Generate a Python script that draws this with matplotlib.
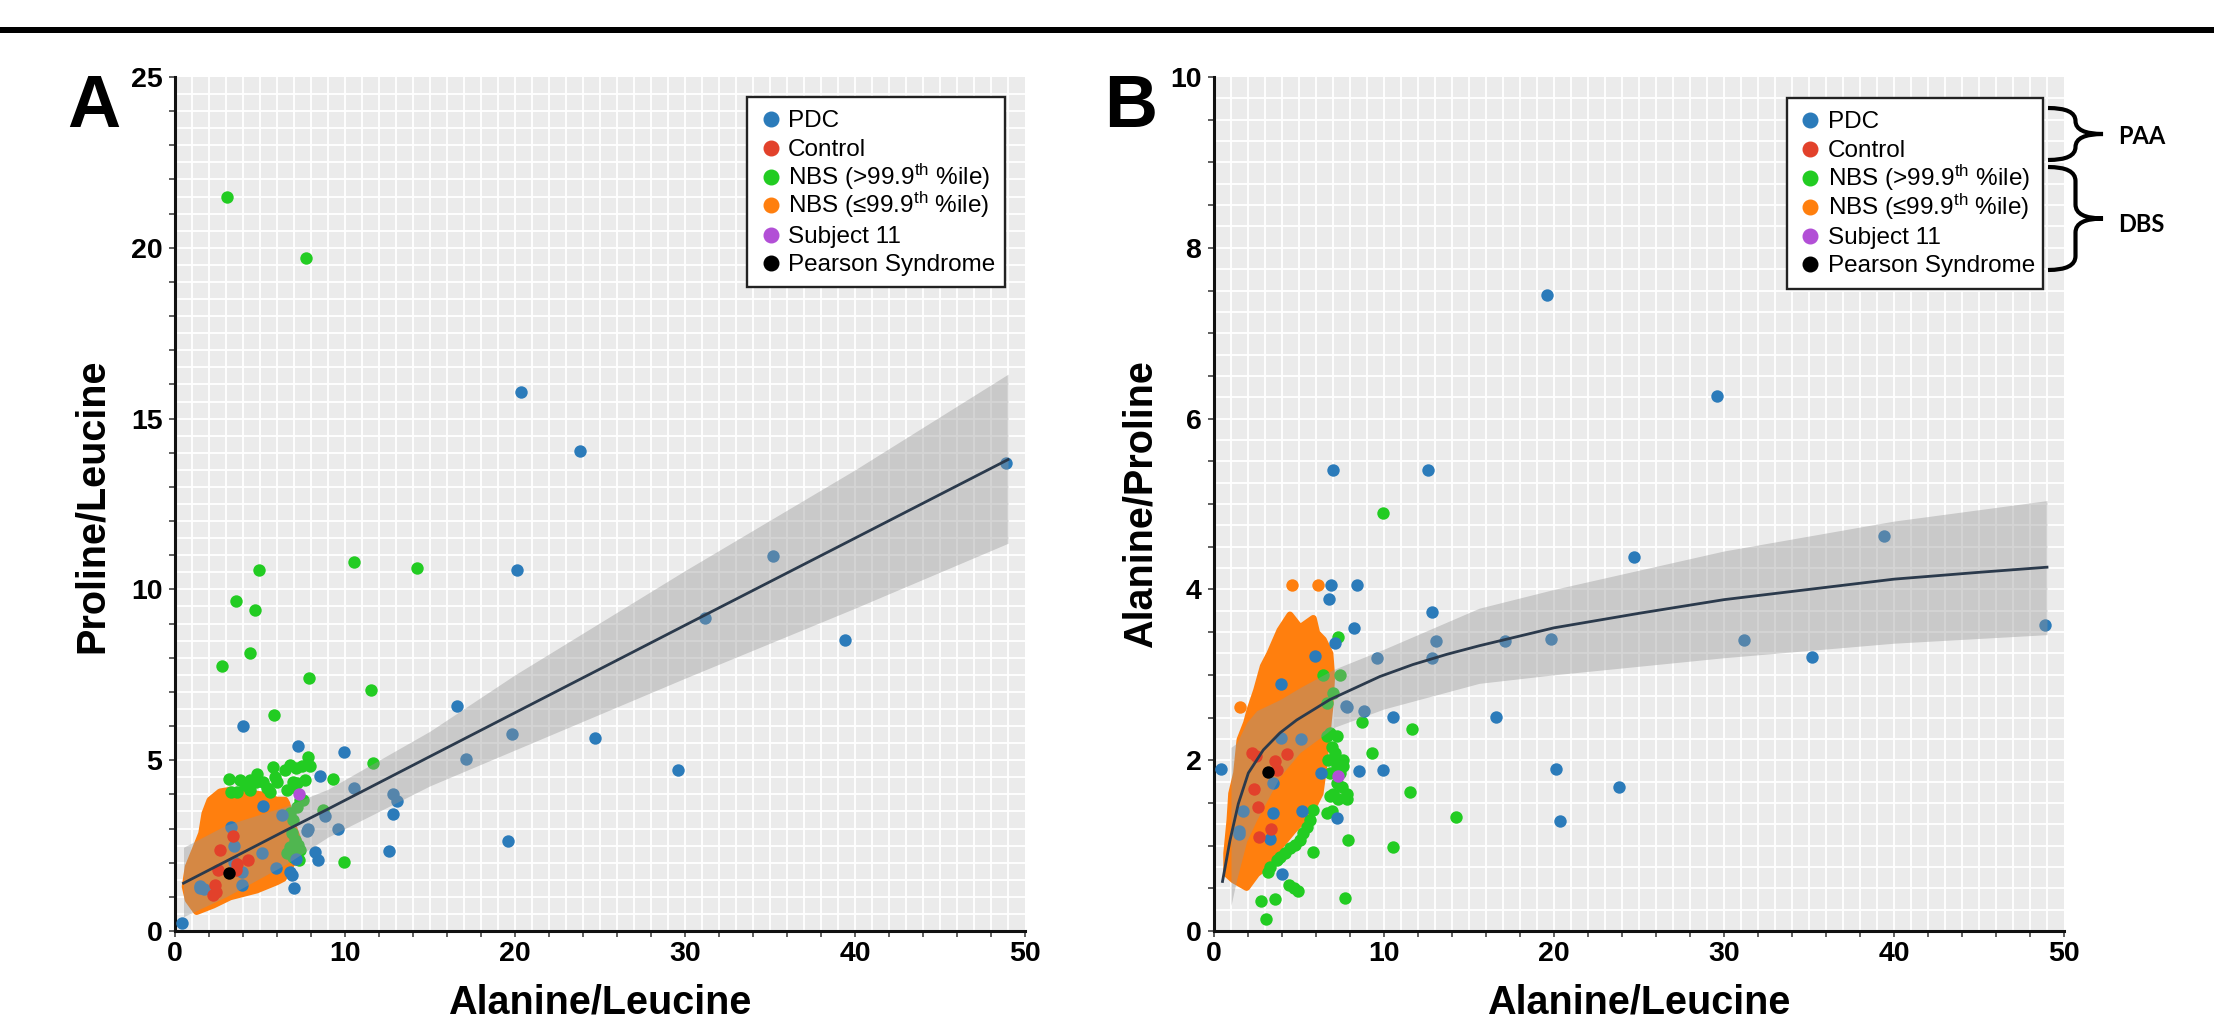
import numpy as np
import matplotlib
matplotlib.use("Agg")
import matplotlib.pyplot as plt
from matplotlib.patches import Polygon, Rectangle, PathPatch
from matplotlib.path import Path
from matplotlib.lines import Line2D

plt.rcParams['font.family'] = ['Liberation Sans', 'DejaVu Sans']
plt.rcParams['mathtext.fontset'] = 'custom'
plt.rcParams['mathtext.rm'] = 'Liberation Sans'
plt.rcParams['mathtext.it'] = 'Liberation Sans:italic'
plt.rcParams['mathtext.bf'] = 'Liberation Sans:bold'

# ---------------- data ----------------
series_labels = ["PDC", "Control", r"NBS (>99.9$^{\mathrm{th}}$ %ile)",
                 r"NBS (≤99.9$^{\mathrm{th}}$ %ile)", "Subject 11", "Pearson Syndrome"]
series_colors = ["#2b7bba", "#e2412b", "#22cc22", "#ff7f0e", "#b24fd6", "#000000"]

x_ticks = [0, 10, 20, 30, 40, 50]
a_y_ticks = [0, 5, 10, 15, 20, 25]
b_y_ticks = [0, 2, 4, 6, 8, 10]

# ---- Panel A : Proline/Leucine vs Alanine/Leucine ----
a_pdc_x = [0.43, 20.35, 23.8, 35.2, 20.1, 31.2, 39.4, 48.9, 16.57, 19.84, 24.7, 17.1, 29.6, 19.6,
           4.02, 7.22, 9.94, 8.53, 10.55, 12.84, 13.04, 12.84, 8.82, 9.57, 7.75, 12.6, 8.24, 8.43,
           7.12, 6.76, 6.86, 7.02, 5.94, 5.16, 6.31, 3.29, 3.45, 5.14, 3.96, 3.92, 1.47, 1.71,
           3.49, 1.49, 7.8]
a_pdc_y = [0.22, 15.77, 14.05, 10.97, 10.57, 9.15, 8.52, 13.69, 6.6, 5.78, 5.64, 5.03, 4.71, 2.63,
           5.99, 5.43, 5.24, 4.54, 4.2, 4.01, 3.81, 3.43, 3.37, 2.98, 2.94, 2.33, 2.32, 2.08,
           2.1, 1.74, 1.64, 1.27, 1.83, 3.66, 3.4, 3.04, 2.5, 2.27, 1.74, 1.35, 1.25, 1.22,
           2.02, 1.32, 2.98]

a_ctrl_x = [3.39, 2.65, 4.28, 3.63, 2.55, 2.35, 2.43, 2.22, 3.59]
a_ctrl_y = [2.78, 2.38, 2.07, 1.96, 1.8, 1.35, 1.15, 1.06, 1.8]

a_nbs_hi_x = [3.07, 7.7, 4.94, 10.55, 14.24, 3.57, 4.72, 4.43, 2.75, 7.9, 11.5, 5.84, 11.63, 9.27,
              9.96, 8.69, 7.2,
              3.19, 3.27, 3.82, 4.12, 4.41, 4.8, 4.76, 5.2, 5.39, 5.78, 5.88, 5.98, 6.47, 6.76,
              7.1, 7.45, 7.8, 7.94, 6.96, 7.16, 7.65, 6.96, 6.57, 5.59, 4.41, 3.63,
              6.76, 6.96, 7.16, 7.35, 7.55, 6.86, 7.06, 7.25, 6.76, 6.57, 7.35, 6.96, 7.31]
a_nbs_hi_y = [21.5, 19.7, 10.57, 10.79, 10.62, 9.66, 9.39, 8.15, 7.76, 7.42, 7.05, 6.33, 4.93, 4.45,
              2.03, 3.54, 2.1,
              4.44, 4.08, 4.42, 4.27, 4.42, 4.61, 4.37, 4.37, 4.18, 4.81, 4.52, 4.37, 4.71, 4.86,
              4.76, 4.84, 5.08, 4.84, 4.37, 4.32, 4.42, 4.22, 4.12, 4.08, 4.12, 4.08,
              3.44, 3.25, 3.64, 3.83, 3.83, 2.86, 2.66, 2.52, 2.47, 2.27, 2.37, 2.18, 2.08]

# outline of the dense NBS (<=99.9th) cloud
a_nbs_lo_outline_x = [1.27, 2.25, 3.24, 4.8, 5.98, 6.37, 6.57, 7.06, 7.16, 7.25, 6.96, 6.57, 6.47,
                      5.98, 5.2, 4.22, 3.24, 2.65, 2.06, 1.76, 1.57, 1.18, 0.78, 0.6, 0.78]
a_nbs_lo_outline_y = [0.57, 0.76, 1.0, 1.2, 1.44, 1.54, 1.79, 2.08, 2.27, 2.66, 3.05, 3.74, 3.83,
                      3.83, 3.98, 4.04, 4.12, 4.07, 3.83, 3.44, 2.86, 2.37, 1.88, 1.3, 0.91]

a_subj_x, a_subj_y = [7.3], [4.01]
a_pear_x, a_pear_y = [3.2], [1.71]

a_fit_x = [0.5, 3, 6.5, 9, 15, 20, 30, 40, 49]
a_fit_y = [1.4, 2.04, 2.94, 3.57, 5.11, 6.39, 8.95, 11.5, 13.8]
a_band_lo = [0.42, 1.0, 1.95, 2.75, 4.25, 5.3, 7.4, 9.45, 11.35]
a_band_hi = [2.45, 3.1, 3.65, 4.15, 5.85, 7.5, 10.55, 13.5, 16.3]

# ---- Panel B : Alanine/Proline vs Alanine/Leucine ----
b_pdc_x = [0.43, 6.76, 6.86, 8.43, 8.24, 7.12, 5.94, 3.92, 9.57, 12.84, 13.04, 12.84, 7.75, 7.8,
           8.82, 10.55, 3.96, 5.14, 3.49, 6.31, 8.53, 9.94, 1.71, 3.45, 5.16, 1.47, 1.49, 3.29,
           7.22, 4.02,
           7.02, 12.6, 19.6, 29.6, 39.4, 24.7, 48.9, 35.2, 31.2, 19.84, 17.1, 16.57, 20.1, 23.8,
           20.35]
b_pdc_y = [1.9, 3.89, 4.05, 4.05, 3.55, 3.37, 3.22, 2.89, 3.2, 3.74, 3.4, 3.2, 2.63, 2.62,
           2.58, 2.51, 2.26, 2.25, 1.73, 1.85, 1.87, 1.89, 1.4, 1.38, 1.4, 1.17, 1.13, 1.08,
           1.32, 0.67,
           5.4, 5.4, 7.45, 6.27, 4.63, 4.38, 3.58, 3.21, 3.41, 3.42, 3.4, 2.51, 1.9, 1.69, 1.29]

b_ctrl_x = [2.22, 2.47, 3.59, 3.69, 4.27, 2.35, 2.61, 2.67, 3.33]
b_ctrl_y = [2.09, 2.05, 1.99, 1.88, 2.07, 1.66, 1.45, 1.1, 1.2]

b_nbs_hi_x = [6.63, 6.82, 7.22, 6.92, 7.12, 6.73, 7.31, 7.61, 7.22, 6.82, 7.41, 7.61, 7.22, 7.51,
              7.8, 7.02, 7.31, 7.8, 6.82, 6.63, 6.92, 5.84, 5.65, 5.45, 5.25, 5.06, 4.76, 4.47,
              4.18, 3.88, 3.69, 3.29, 3.2, 4.43, 4.72, 4.94, 5.84, 7.9, 10.55, 7.7, 2.75, 3.57,
              3.07, 8.69, 9.27, 11.63, 11.5, 14.24, 7.31, 6.43, 7.41, 7.02, 6.63, 9.96]
b_nbs_hi_y = [2.28, 2.32, 2.28, 2.16, 2.08, 2.0, 2.0, 2.0, 1.93, 1.85, 1.85, 1.93, 1.73, 1.69,
              1.61, 1.61, 1.54, 1.54, 1.58, 1.38, 1.4, 1.42, 1.3, 1.22, 1.15, 1.07, 1.01, 0.97,
              0.91, 0.87, 0.83, 0.75, 0.69, 0.54, 0.5, 0.47, 0.92, 1.06, 0.98, 0.39, 0.35, 0.37,
              0.14, 2.45, 2.08, 2.36, 1.63, 1.34, 3.44, 3.0, 3.0, 2.79, 2.67, 4.9]

b_nbs_lo_outline_x = [4.47, 5.06, 5.84, 6.04, 6.43, 6.82, 6.92, 6.82, 6.63, 6.43, 6.24, 5.65, 4.67,
                      3.88, 3.29, 2.51, 1.92, 1.14, 0.75, 0.75, 0.94, 1.04, 1.33, 1.53, 1.92, 2.12,
                      2.51, 2.9, 3.29, 3.88]
b_nbs_lo_outline_y = [3.70, 3.55, 3.66, 3.49, 3.41, 3.25, 2.98, 2.63, 2.28, 1.89, 1.61, 1.38, 1.18,
                      0.99, 0.79, 0.67, 0.51, 0.6, 0.67, 0.91, 1.3, 1.61, 1.85, 2.24, 2.44, 2.59,
                      2.82, 3.1, 3.25, 3.52]
b_nbs_lo_x = [1.55, 4.57, 6.1]
b_nbs_lo_y = [2.62, 4.05, 4.05]

b_subj_x, b_subj_y = [7.3], [1.82]
b_pear_x, b_pear_y = [3.2], [1.86]

b_fit_x = [0.5, 0.94, 1.43, 2.02, 2.9, 3.88, 4.86, 5.84, 6.82, 7.8, 9.76, 11.7, 13.7, 15.6,
           20, 25, 30, 35, 40, 45, 49]
b_fit_y = [0.58, 1.06, 1.49, 1.85, 2.12, 2.32, 2.47, 2.59, 2.71, 2.8, 2.98, 3.12, 3.24, 3.34,
           3.55, 3.72, 3.88, 4.0, 4.12, 4.2, 4.26]
b_band_x = [1.0, 1.33, 1.92, 2.51, 3.88, 5.06, 6.63, 7.0, 10, 15.6, 20, 30, 40, 49]
b_band_lo = [0.3, 0.6, 1.05, 1.3, 1.81, 2.09, 2.32, 2.38, 2.6, 2.9, 3.0, 3.2, 3.37, 3.47]
b_band_hi = [2.15, 2.2, 2.44, 2.58, 2.71, 2.85, 3.02, 3.06, 3.3, 3.78, 4.0, 4.45, 4.8, 5.04]

# ---------------- figure ----------------
W, H = 2214, 1019
fig = plt.figure(figsize=(W / 100, H / 100), dpi=100)
fx = lambda px: px / W
fy = lambda py: 1 - py / H

BG = "#ebebeb"
MS = 80

axA = fig.add_axes([fx(175), fy(931), (1025 - 175) / W, (931 - 77) / H])
axB = fig.add_axes([fx(1214), fy(931), (2064 - 1214) / W, (931 - 77) / H])


def style(ax, ymax, ymajor, yminor_step, ygrid_step):
    ax.set_facecolor(BG)
    ax.set_xlim(0, 50)
    ax.set_ylim(0, ymax)
    ax.vlines(np.arange(1, 50), 0, 1, transform=ax.get_xaxis_transform(),
              colors="white", lw=1.3, zorder=0.5)
    ax.hlines(np.arange(ygrid_step, ymax, ygrid_step), 0, 1, transform=ax.get_yaxis_transform(),
              colors="white", lw=1.3, zorder=0.5)
    ax.set_xticks(x_ticks)
    ax.set_xticks(np.arange(0, 51, 2), minor=True)
    ax.set_yticks(ymajor)
    ax.set_yticks(np.arange(0, ymax + 1e-9, yminor_step), minor=True)
    ax.set_xticklabels([str(t) for t in x_ticks], fontsize=20.5, fontweight="bold")
    ax.set_yticklabels([str(t) for t in ymajor], fontsize=20.5, fontweight="bold")
    for s in ["top", "right"]:
        ax.spines[s].set_visible(False)
    for s in ["left", "bottom"]:
        ax.spines[s].set_linewidth(2.2)
        ax.spines[s].set_color("#111111")
    ax.tick_params(axis="both", which="both", direction="out", length=4.5, width=1.1,
                   color="#333333")
    ax.tick_params(axis="x", which="major", pad=3)
    ax.tick_params(axis="y", which="major", pad=4.5)


style(axA, 25, a_y_ticks, 1, 0.5)
style(axB, 10, b_y_ticks, 0.5, 0.25)

BAND_C = "#969696"


def draw_panel(ax, outline_x, outline_y, lo_x, lo_y, hi_x, hi_y, pdc_x, pdc_y, ctrl_x, ctrl_y,
               subj_x, subj_y, pear_x, pear_y, band_x, band_lo, band_hi, fit_x, fit_y):
    ax.add_patch(Polygon(np.column_stack([outline_x, outline_y]), closed=True,
                         facecolor=series_colors[3], edgecolor=series_colors[3], lw=5,
                         joinstyle="round", zorder=2))
    if lo_x:
        ax.scatter(lo_x, lo_y, s=MS, color=series_colors[3], lw=0, zorder=2.1)
    ax.scatter(hi_x, hi_y, s=MS, color=series_colors[2], lw=0, zorder=3)
    ax.scatter(pdc_x, pdc_y, s=MS, color=series_colors[0], lw=0, zorder=4)
    ax.fill_between(band_x, band_lo, band_hi, color=BAND_C, alpha=0.4, lw=0, zorder=5)
    ax.scatter(ctrl_x, ctrl_y, s=MS, color=series_colors[1], lw=0, zorder=6)
    ax.scatter(subj_x, subj_y, s=MS, color=series_colors[4], lw=0, zorder=6)
    ax.scatter(pear_x, pear_y, s=MS, color=series_colors[5], lw=0, zorder=6)
    ax.plot(fit_x, fit_y, color="#2b3a4c", lw=2.0, zorder=7)


draw_panel(axA, a_nbs_lo_outline_x, a_nbs_lo_outline_y, [], [], a_nbs_hi_x, a_nbs_hi_y,
           a_pdc_x, a_pdc_y, a_ctrl_x, a_ctrl_y, a_subj_x, a_subj_y, a_pear_x, a_pear_y,
           a_fit_x, a_band_lo, a_band_hi, a_fit_x, a_fit_y)
draw_panel(axB, b_nbs_lo_outline_x, b_nbs_lo_outline_y, b_nbs_lo_x, b_nbs_lo_y,
           b_nbs_hi_x, b_nbs_hi_y, b_pdc_x, b_pdc_y, b_ctrl_x, b_ctrl_y, b_subj_x, b_subj_y,
           b_pear_x, b_pear_y, b_band_x, b_band_lo, b_band_hi, b_fit_x, b_fit_y)

# axis labels
LBL = dict(fontsize=28.5, fontweight="bold")
fig.text(fx(600), fy(1003), "Alanine/Leucine", ha="center", va="center", **LBL)
fig.text(fx(1639), fy(1003), "Alanine/Leucine", ha="center", va="center", **LBL)
fig.text(fx(92), fy(506), "Proline/Leucine", ha="center", va="center", rotation=90, **LBL)
fig.text(fx(1141), fy(504), "Alanine/Proline", ha="center", va="center", rotation=90, **LBL)

# panel letters
fig.text(fx(67), fy(127), "A", fontsize=53, fontweight="bold", ha="left", va="baseline")
fig.text(fx(1157), fy(127), "B", fontsize=53, fontweight="bold", ha="right", va="baseline")

# top rule
fig.add_artist(Rectangle((0, fy(33)), 1, 5.5 / H, transform=fig.transFigure,
                         facecolor="black", edgecolor="none", zorder=30))


def legend(box, mx, tx, rows):
    x0, y0, x1, y1 = box
    fig.add_artist(Rectangle((fx(x0), fy(y1)), (x1 - x0) / W, (y1 - y0) / H,
                             transform=fig.transFigure, facecolor="white",
                             edgecolor="#222222", lw=1.7, zorder=20))
    for lab, col, ry in zip(series_labels, series_colors, rows):
        fig.add_artist(Line2D([fx(mx)], [fy(ry)], transform=fig.transFigure, marker="o",
                              ms=10.5, color=col, lw=0, zorder=21))
        fig.text(fx(tx), fy(ry + 8), lab, fontsize=17.5, ha="left", va="baseline", zorder=22)


legend((747, 97, 1005, 287), 771, 788, [119, 148, 177, 205, 235, 263])
legend((1787, 98, 2043, 289), 1810, 1828, [120, 149, 178, 207, 236, 264])


def brace(x0, ytop, ybot, xtip):
    xm = (x0 + xtip) / 2
    ym = (ytop + ybot) / 2
    r = min(14, (ybot - ytop) / 4)
    pts = [(x0, ytop), (xm, ytop), (xm, ytop + r), (xm, ym - r), (xm, ym), (xtip, ym),
           (xm, ym), (xm, ym + r), (xm, ybot - r), (xm, ybot), (x0, ybot)]
    codes = [Path.MOVETO, Path.CURVE3, Path.CURVE3, Path.LINETO, Path.CURVE3, Path.CURVE3,
             Path.CURVE3, Path.CURVE3, Path.LINETO, Path.CURVE3, Path.CURVE3]
    path = Path([(fx(a), fy(b)) for a, b in pts], codes)
    fig.add_artist(PathPatch(path, transform=fig.transFigure, facecolor="none",
                             edgecolor="black", lw=3, capstyle="butt", zorder=25))


brace(2048, 108, 160, 2103)
brace(2048, 167, 270, 2103)
fig.text(fx(2118), fy(137), "PAA", fontsize=17, fontweight="bold", family=["Lato", "DejaVu Sans"],
         ha="left", va="center")
fig.text(fx(2118), fy(225), "DBS", fontsize=17, fontweight="bold", family=["Lato", "DejaVu Sans"],
         ha="left", va="center")

fig.savefig("out.png", dpi=100, facecolor="white")
